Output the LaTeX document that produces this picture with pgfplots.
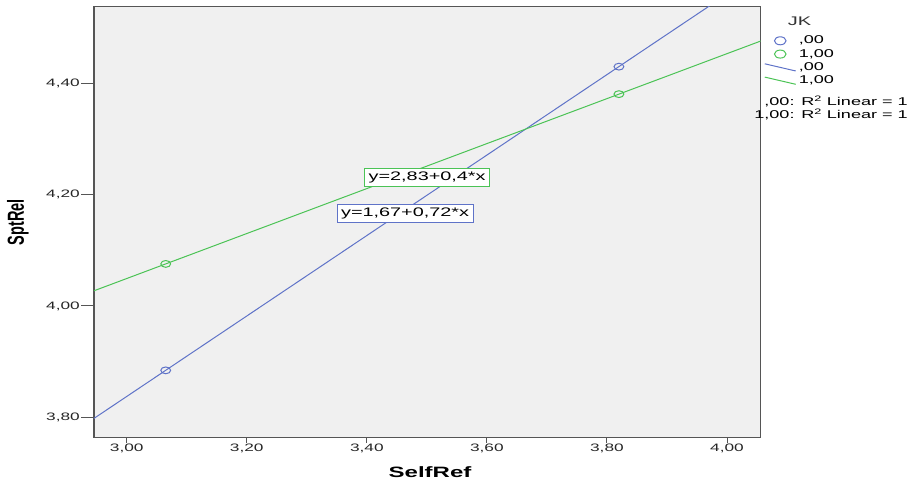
\documentclass[border=0pt]{standalone}
\usepackage{fontspec}
\setmainfont{Liberation Sans}[FakeStretch=1.6]
\newfontfamily\nostretch{Liberation Sans}
\usepackage{pgfplots}
\pgfplotsset{compat=1.18}
\definecolor{spssblue}{RGB}{95,115,200}
\definecolor{spssgreen}{RGB}{75,195,85}
\definecolor{bgc}{RGB}{240,240,240}
\definecolor{framec}{RGB}{85,85,85}
\pgfplotsset{
  circleleg/.style={legend image code/.code={\path (0bp,0bp) (31bp,0bp); \draw[##1, mark size=4bp, mark options={xscale=1.45, line width=1bp}] plot coordinates {(15.5bp,0bp)};}},
  lineleg/.style={legend image code/.code={\draw[##1] (0bp,3.6bp) -- (31bp,-3.6bp);}},
}
\begin{document}
\begin{tikzpicture}
\begin{axis}[
  scale only axis,
  width=666.7bp, height=431bp,
  xmin=2.9455, xmax=4.0562,
  ymin=3.7627, ymax=4.539,
  axis background/.style={fill=bgc},
  axis line style={framec, line width=1.1bp},
  xtick={3,3.2,3.4,3.6,3.8,4},
  ytick={3.8,4.0,4.2,4.4},
  tick align=outside,
  xtick pos=bottom, ytick pos=left,
  major tick length=5bp,
  tick style={framec, line width=0.9bp},
  ytick style={draw=none},
  /pgf/number format/.cd, fixed, fixed zerofill, precision=2, use comma, assume math mode=true,
  /pgfplots/.cd,
  ticklabel style={font=\fontsize{10.8bp}{12bp}\selectfont, text=black!85},
  yticklabel style={inner sep=0.5bp, xshift=-8.5bp},
  xticklabel style={inner sep=1.5bp},
  xlabel={\bfseries SelfRef},
  ylabel={\scalebox{1}[1.6]{\nostretch\bfseries SptRel}},
  xlabel style={font=\fontsize{15bp}{17bp}\selectfont, at={(axis description cs:0.504,-0.0912)}, anchor=base},
  ylabel style={font=\fontsize{14.5bp}{16bp}\selectfont, at={(axis description cs:-0.114,0.5)}, anchor=center},
  legend style={at={(axis description cs:1.005,0.9355)}, anchor=north west, draw=none, fill=none,
    font=\fontsize{11.3bp}{12bp}\selectfont, inner sep=0pt, row sep=1.1bp,
    nodes={inner sep=0.6bp, text height=8.5bp, text depth=2.5bp},
    /tikz/every odd column/.append style={column sep=2bp}},
  legend cell align=left,
  clip=true,
]
\addplot[only marks, mark=o, spssblue, mark size=3.4bp, mark options={xscale=1.45, line width=1bp}, circleleg]
  coordinates {(3.065,3.884) (3.82,4.431)};
\addlegendentry{,00}
\addplot[only marks, mark=o, spssgreen, mark size=3.4bp, mark options={xscale=1.45, line width=1bp}, circleleg]
  coordinates {(3.065,4.0757) (3.82,4.3815)};
\addlegendentry{1,00}
\addplot[spssblue, line width=1bp, no marks, lineleg]
  coordinates {(2.90,3.7645) (4.10,4.634)};
\addlegendentry{,00}
\addplot[spssgreen, line width=1bp, no marks, lineleg]
  coordinates {(2.90,4.0089) (4.10,4.4949)};
\addlegendentry{1,00}
\node[draw=spssgreen, fill=white, line width=1.1bp, inner xsep=4bp, inner ysep=3.5bp,
  text height=9bp, text depth=2.5bp, font=\fontsize{12.4bp}{14bp}\selectfont]
  at (axis cs:3.5005,4.2312) {y=2,83+0,4*x};
\node[draw=spssblue, fill=white, line width=1.1bp, inner xsep=4bp, inner ysep=3.5bp,
  text height=9bp, text depth=2.5bp, font=\fontsize{12.4bp}{14bp}\selectfont]
  at (axis cs:3.4638,4.1663) {y=1,67+0,72*x};
\end{axis}
\begin{axis}[
  scale only axis,
  width=666.7bp, height=431bp,
  xmin=2.9455, xmax=4.0562,
  ymin=3.7627, ymax=4.539,
  hide x axis,
  axis y line*=left,
  axis line style={draw=none},
  ytick={3.8,4.0,4.2,4.4},
  yticklabels={},
  tick align=outside,
  major tick length=13bp,
  tick style={framec, line width=0.9bp},
]
\end{axis}
\node[font=\fontsize{12.5bp}{14bp}\selectfont, text=black!80] at (705.5bp,416.2bp) {JK};
\node[font=\fontsize{11.3bp}{12bp}\selectfont, anchor=east, inner sep=0pt] at (814bp,336bp) {,00: R\textsuperscript{2} Linear = 1};
\node[font=\fontsize{11.3bp}{12bp}\selectfont, anchor=east, inner sep=0pt] at (814bp,323bp) {1,00: R\textsuperscript{2} Linear = 1};
\pgfresetboundingbox
\path[use as bounding box] (-94bp,-45.3bp) rectangle (820bp,437.7bp);
\end{tikzpicture}
\end{document}
